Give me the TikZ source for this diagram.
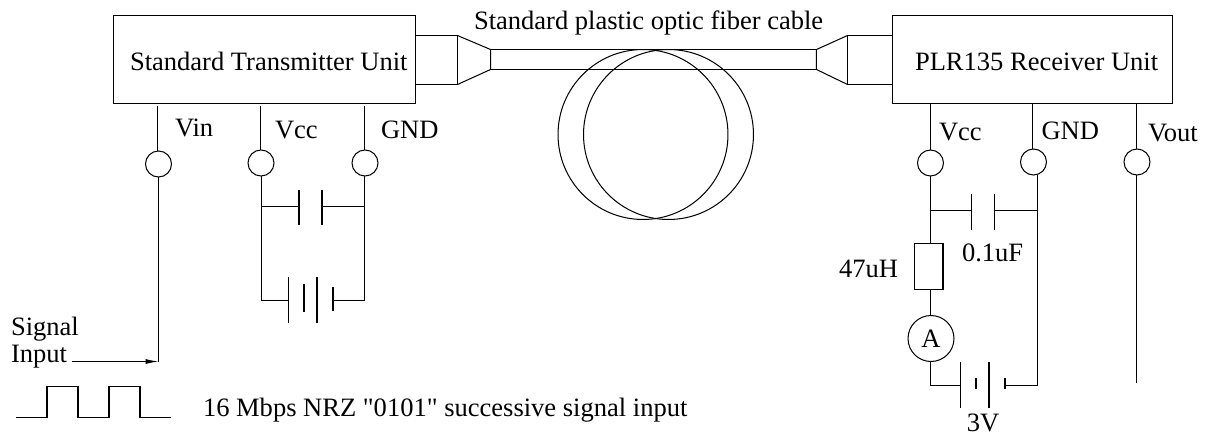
\documentclass[tikz,border=0pt]{standalone}
\usepackage{fontspec}
\setmainfont{Liberation Serif}
\newfontfamily\plainquote{Liberation Serif}
\usetikzlibrary{arrows.meta}
\tikzset{
 wire/.style={draw=black,line width=0.58pt},
 boxn/.style={draw=black,line width=0.58pt,fill=none,inner sep=0pt,outer sep=0pt},
 pin/.style={circle,draw=black,line width=0.58pt,inner sep=0pt,outer sep=0pt,minimum size=0.52cm},
 lab/.style={anchor=base west,inner sep=0pt,outer sep=0pt,font=\fontsize{15.1}{17}\selectfont},
 labc/.style={anchor=base,inner sep=0pt,outer sep=0pt,font=\fontsize{15.1}{17}\selectfont},
}
\begin{document}
\begin{tikzpicture}[x=0.02cm,y=-0.02cm]
\useasboundingbox (0,0) rectangle (1211,437);
% units and connectors
\node[boxn,minimum width=6.04cm,minimum height=1.76cm] (tx) at (264.5,59.5) {};
\node[boxn,minimum width=5.6cm,minimum height=1.76cm] (rx) at (1032.5,59.5) {};
\node[boxn,minimum width=0.84cm,minimum height=0.98cm] (cl) at (436.5,60) {};
\node[boxn,minimum width=0.9cm,minimum height=0.98cm] (cr) at (870,60) {};
\node[boxn,minimum width=6.52cm,minimum height=0.4cm] (cable) at (653.5,59.5) {};
\draw[wire] (cl.north east) -- (cable.north west) -- (cable.south west) -- (cl.south east);
\draw[wire] (cr.north west) -- (cable.north east) -- (cable.south east) -- (cr.south west);
% fibre loops
\node[circle,boxn,minimum size=3.4cm] (loopa) at (643,134.5) {};
\node[circle,boxn,minimum size=3.4cm] (loopb) at (668.5,134.5) {};
% pins, left
\node[pin] (pvin) at (158.5,164) {};
\node[pin] (pvcc) at (261,163) {};
\node[pin] (pgnd) at (365,163) {};
\coordinate (tvin) at (157.5,106);
\coordinate (tvcc) at (260.5,106);
\coordinate (tgnd) at (364.5,106);
\draw[wire] (tvin) -- (tvin |- pvin.north);
\draw[wire] (tvcc) -- (tvcc |- pvcc.north);
\draw[wire] (tgnd) -- (tgnd |- pgnd.north);
\coordinate (sigin) at (158.5,361.5);
\coordinate (sigstart) at (72,361.5);
\draw[wire] (pvin.south) -- (sigin);
\draw[wire,-{Latex[length=0.26cm,width=0.1cm]}] (sigstart) -- (sigin);
% left capacitor
\coordinate (lcj) at (261.5,206.5);
\coordinate (rcj) at (364.5,206.5);
\coordinate (lc1) at (299.5,206.5);
\coordinate (lc2) at (322.5,206.5);
\draw[wire] (261.5,176) -- (261.5,300.5) -- (288.5,300.5);
\draw[wire] (364.5,176) -- (364.5,300.5) -- (333.5,300.5);
\draw[wire] (lcj) -- (lc1) (lc2) -- (rcj);
\draw[wire] (299,190) -- (299,225) (322,190) -- (322,225);
% left battery
\draw[wire] (288.5,277) -- (288.5,323) (304,284) -- (304,312) (317,277) -- (317,323) (333,287) -- (333,311);
% pulse
\draw[wire] (16,417.5) -- (47,417.5) -- (47,386.5) -- (78,386.5) -- (78,417.5) -- (109,417.5) -- (109,386.5) -- (140,386.5) -- (140,417.5) -- (171,417.5);
% pins, right
\node[pin] (qvcc) at (930.5,163) {};
\node[pin] (qgnd) at (1033.5,162) {};
\node[pin] (qvout) at (1137,162) {};
\coordinate (uvcc) at (930.5,104);
\coordinate (ugnd) at (1032.5,104);
\coordinate (uvout) at (1136.5,104);
\draw[wire] (uvcc) -- (uvcc |- qvcc.north);
\draw[wire] (ugnd) -- (ugnd |- qgnd.north);
\draw[wire] (uvout) -- (uvout |- qvout.north);
\coordinate (voutend) at (1136,383);
\draw[wire] (1136,175) -- (voutend);
% right resistor, ammeter
\node[boxn,minimum width=0.58cm,minimum height=0.92cm] (res) at (928.5,266.5) {};
\node[circle,boxn,minimum size=0.92cm,font=\fontsize{15.1}{17}\selectfont] (amp) at (931,338.5) {A};
\draw[wire] (930.5,176) -- (930.5,243.5);
\draw[wire] (930.5,289.5) -- (930.5,315.5);
\draw[wire] (930.5,361.5) -- (930.5,385.5) -- (960.5,385.5);
\draw[wire] (1037,175) -- (1037,385.5) -- (1005,385.5);
% right capacitor
\draw[wire] (930.5,210.5) -- (971.5,210.5) (994.5,210.5) -- (1037,210.5);
\draw[wire] (971.5,194) -- (971.5,230) (994.5,194) -- (994.5,230);
% right battery
\draw[wire] (960.5,362) -- (960.5,408) (976,378) -- (976,389) (989,362) -- (989,408) (1005,378) -- (1005,389);
% labels
\node[lab] (tcable) at (474,29.5) {Standard plastic optic fiber cable};
\node[lab] (ttx) at (130,70) {Standard Transmitter Unit};
\node[lab] (trx) at (915,70) {PLR135 Receiver Unit};
\node[lab] (lvin) at (175,136) {Vin};
\node[lab] (lvcc) at (275,138) {Vcc};
\node[lab] (lgnd) at (381,138) {GND};
\node[lab] (rvcc) at (939,140) {Vcc};
\node[lab] (rgnd) at (1041.5,139.5) {GND};
\node[lab] (rvout) at (1148,141.5) {Vout};
\node[lab] (tsig) at (11,335) {Signal};
\node[lab] (tinp) at (11,362) {Input};
\node[lab] (tnrz) at (203,416) {\plainquote 16 Mbps NRZ "0101" successive signal input};
\node[lab] (tuh) at (839,277) {47uH};
\node[lab] (tuf) at (962,261) {0.1uF};
\node[labc] (tv) at (983,431.5) {3V};
\end{tikzpicture}
\end{document}
